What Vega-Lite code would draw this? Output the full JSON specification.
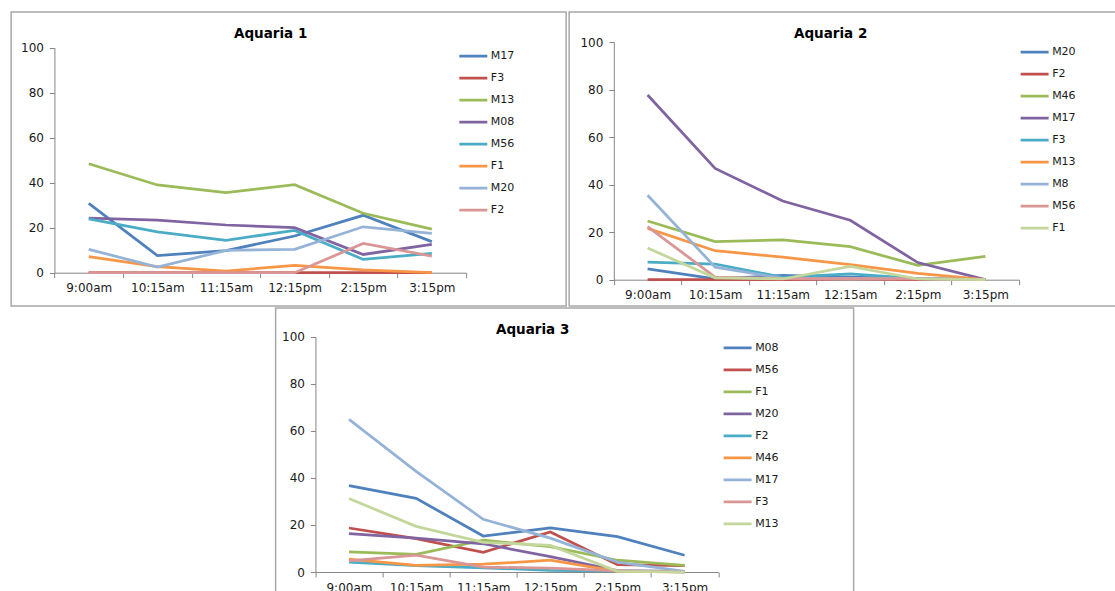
{
  "$schema": "https://vega.github.io/schema/vega-lite/v6.json",
  "padding": {"left": 10, "top": 11, "right": 0, "bottom": 0},
  "background": "white",
  "config": {
    "view": {"stroke": "#a8a8a8", "strokeWidth": 1.5},
    "font": "DejaVu Sans",
    "axis": {"domainColor": "#868686", "tickColor": "#868686", "labelColor": "#1a1a1a", "labelFont": "DejaVu Sans", "labelFontSize": 12, "grid": false, "title": null, "tickSize": 5},
    "legend": {"symbolType": "stroke", "symbolStrokeWidth": 3, "symbolSize": 784, "labelFont": "DejaVu Sans", "labelFontSize": 11, "labelColor": "#1a1a1a", "labelOffset": 2, "rowPadding": 0, "padding": 0, "title": null, "orient": "none"},
    "title": {"font": "DejaVu Sans", "fontSize": 13.5, "fontWeight": "bold", "color": "#000", "anchor": "middle", "baseline": "middle"},
    "line": {"strokeWidth": 2.75}
  },
  "datasets": {
    "a1": [
      {"t":"9:00am","s":"M17","v":30.8},{"t":"10:15am","s":"M17","v":7.6},{"t":"11:15am","s":"M17","v":9.8},{"t":"12:15pm","s":"M17","v":16.3},{"t":"2:15pm","s":"M17","v":25.5},{"t":"3:15pm","s":"M17","v":13.8},
      {"t":"9:00am","s":"F3","v":0},{"t":"10:15am","s":"F3","v":0},{"t":"11:15am","s":"F3","v":0},{"t":"12:15pm","s":"F3","v":0},{"t":"2:15pm","s":"F3","v":0},{"t":"3:15pm","s":"F3","v":0},
      {"t":"9:00am","s":"M13","v":48.4},{"t":"10:15am","s":"M13","v":39},{"t":"11:15am","s":"M13","v":35.6},{"t":"12:15pm","s":"M13","v":39.1},{"t":"2:15pm","s":"M13","v":26.4},{"t":"3:15pm","s":"M13","v":19.4},
      {"t":"9:00am","s":"M08","v":24.3},{"t":"10:15am","s":"M08","v":23.4},{"t":"11:15am","s":"M08","v":21.2},{"t":"12:15pm","s":"M08","v":20},{"t":"2:15pm","s":"M08","v":8.1},{"t":"3:15pm","s":"M08","v":12.6},
      {"t":"9:00am","s":"M56","v":23.9},{"t":"10:15am","s":"M56","v":18.1},{"t":"11:15am","s":"M56","v":14.4},{"t":"12:15pm","s":"M56","v":18.8},{"t":"2:15pm","s":"M56","v":5.9},{"t":"3:15pm","s":"M56","v":8.6},
      {"t":"9:00am","s":"F1","v":7.1},{"t":"10:15am","s":"F1","v":2.7},{"t":"11:15am","s":"F1","v":0.7},{"t":"12:15pm","s":"F1","v":3.3},{"t":"2:15pm","s":"F1","v":1.3},{"t":"3:15pm","s":"F1","v":0},
      {"t":"9:00am","s":"M20","v":10.4},{"t":"10:15am","s":"M20","v":2.5},{"t":"11:15am","s":"M20","v":9.9},{"t":"12:15pm","s":"M20","v":10.4},{"t":"2:15pm","s":"M20","v":20.4},{"t":"3:15pm","s":"M20","v":17.5},
      {"t":"9:00am","s":"F2","v":0},{"t":"10:15am","s":"F2","v":0},{"t":"11:15am","s":"F2","v":0},{"t":"12:15pm","s":"F2","v":0},{"t":"2:15pm","s":"F2","v":13},{"t":"3:15pm","s":"F2","v":7.4}
    ],
    "a2": [
      {"t":"9:00am","s":"M20","v":4.6},{"t":"10:15am","s":"M20","v":0.4},{"t":"11:15am","s":"M20","v":1.8},{"t":"12:15am","s":"M20","v":1.1},{"t":"2:15pm","s":"M20","v":0.5},{"t":"3:15pm","s":"M20","v":0},
      {"t":"9:00am","s":"F2","v":0},{"t":"10:15am","s":"F2","v":0},{"t":"11:15am","s":"F2","v":0},{"t":"12:15am","s":"F2","v":0.3},{"t":"2:15pm","s":"F2","v":0},{"t":"3:15pm","s":"F2","v":0},
      {"t":"9:00am","s":"M46","v":24.7},{"t":"10:15am","s":"M46","v":16},{"t":"11:15am","s":"M46","v":16.8},{"t":"12:15am","s":"M46","v":13.9},{"t":"2:15pm","s":"M46","v":6},{"t":"3:15pm","s":"M46","v":9.8},
      {"t":"9:00am","s":"M17","v":77.7},{"t":"10:15am","s":"M17","v":46.8},{"t":"11:15am","s":"M17","v":33.1},{"t":"12:15am","s":"M17","v":25},{"t":"2:15pm","s":"M17","v":7.2},{"t":"3:15pm","s":"M17","v":0},
      {"t":"9:00am","s":"F3","v":7.4},{"t":"10:15am","s":"F3","v":6.6},{"t":"11:15am","s":"F3","v":1},{"t":"12:15am","s":"F3","v":2.5},{"t":"2:15pm","s":"F3","v":0.5},{"t":"3:15pm","s":"F3","v":0},
      {"t":"9:00am","s":"M13","v":21.6},{"t":"10:15am","s":"M13","v":12.2},{"t":"11:15am","s":"M13","v":9.5},{"t":"12:15am","s":"M13","v":6.3},{"t":"2:15pm","s":"M13","v":2.7},{"t":"3:15pm","s":"M13","v":0},
      {"t":"9:00am","s":"M8","v":35.5},{"t":"10:15am","s":"M8","v":5.3},{"t":"11:15am","s":"M8","v":0.6},{"t":"12:15am","s":"M8","v":0.6},{"t":"2:15pm","s":"M8","v":0.5},{"t":"3:15pm","s":"M8","v":0},
      {"t":"9:00am","s":"M56","v":22.3},{"t":"10:15am","s":"M56","v":1.1},{"t":"11:15am","s":"M56","v":0.5},{"t":"12:15am","s":"M56","v":0.5},{"t":"2:15pm","s":"M56","v":0.3},{"t":"3:15pm","s":"M56","v":0},
      {"t":"9:00am","s":"F1","v":13.3},{"t":"10:15am","s":"F1","v":0.8},{"t":"11:15am","s":"F1","v":0.3},{"t":"12:15am","s":"F1","v":5.6},{"t":"2:15pm","s":"F1","v":0.3},{"t":"3:15pm","s":"F1","v":0}
    ],
    "a3": [
      {"t":"9:00am","s":"M08","v":36.7},{"t":"10:15am","s":"M08","v":31.3},{"t":"11:15am","s":"M08","v":15.3},{"t":"12:15pm","s":"M08","v":18.7},{"t":"2:15pm","s":"M08","v":15},{"t":"3:15pm","s":"M08","v":7.1},
      {"t":"9:00am","s":"M56","v":18.7},{"t":"10:15am","s":"M56","v":14.2},{"t":"11:15am","s":"M56","v":8.4},{"t":"12:15pm","s":"M56","v":17},{"t":"2:15pm","s":"M56","v":3.1},{"t":"3:15pm","s":"M56","v":2.7},
      {"t":"9:00am","s":"F1","v":8.6},{"t":"10:15am","s":"F1","v":7.5},{"t":"11:15am","s":"F1","v":13.5},{"t":"12:15pm","s":"F1","v":10.8},{"t":"2:15pm","s":"F1","v":5},{"t":"3:15pm","s":"F1","v":2.8},
      {"t":"9:00am","s":"M20","v":16.3},{"t":"10:15am","s":"M20","v":14.4},{"t":"11:15am","s":"M20","v":12},{"t":"12:15pm","s":"M20","v":6.5},{"t":"2:15pm","s":"M20","v":0.6},{"t":"3:15pm","s":"M20","v":0.3},
      {"t":"9:00am","s":"F2","v":4.2},{"t":"10:15am","s":"F2","v":2.7},{"t":"11:15am","s":"F2","v":1.8},{"t":"12:15pm","s":"F2","v":0.7},{"t":"2:15pm","s":"F2","v":0.4},{"t":"3:15pm","s":"F2","v":0},
      {"t":"9:00am","s":"M46","v":5.5},{"t":"10:15am","s":"M46","v":2.8},{"t":"11:15am","s":"M46","v":3.3},{"t":"12:15pm","s":"M46","v":5},{"t":"2:15pm","s":"M46","v":0.3},{"t":"3:15pm","s":"M46","v":0},
      {"t":"9:00am","s":"M17","v":64.9},{"t":"10:15am","s":"M17","v":42.8},{"t":"11:15am","s":"M17","v":22.4},{"t":"12:15pm","s":"M17","v":14.4},{"t":"2:15pm","s":"M17","v":4.2},{"t":"3:15pm","s":"M17","v":0.3},
      {"t":"9:00am","s":"F3","v":4.7},{"t":"10:15am","s":"F3","v":7.2},{"t":"11:15am","s":"F3","v":2.1},{"t":"12:15pm","s":"F3","v":1.6},{"t":"2:15pm","s":"F3","v":0.5},{"t":"3:15pm","s":"F3","v":0},
      {"t":"9:00am","s":"M13","v":31.2},{"t":"10:15am","s":"M13","v":19.4},{"t":"11:15am","s":"M13","v":12.6},{"t":"12:15pm","s":"M13","v":11.3},{"t":"2:15pm","s":"M13","v":0.3},{"t":"3:15pm","s":"M13","v":0}
    ]
  },
  "vconcat": [
    {
      "hconcat": [
        {
          "width": 555, "height": 294,
          "title": {"text": "Aquaria 1", "offset": -28.4, "dx": -18},
          "data": {"name": "a1"},
          "mark": "line",
          "encoding": {
            "x": {"field": "t", "type": "ordinal", "sort": ["9:00am","10:15am","11:15am","12:15pm","2:15pm","3:15pm"],
                  "scale": {"type": "band", "paddingInner": 0, "paddingOuter": 0, "range": [43.3, 455]},
                  "axis": {"offset": -33.3, "tickBand": "extent", "labelAngle": 0, "labelPadding": 5}},
            "y": {"field": "v", "type": "quantitative",
                  "scale": {"domain": [0, 100], "nice": false, "zero": true, "range": [260.7, 35.7]},
                  "axis": {"offset": -43.3, "values": [0,20,40,60,80,100], "labelPadding": 6}},
            "color": {"field": "s", "type": "nominal",
                      "scale": {"domain": ["M17","F3","M13","M08","M56","F1","M20","F2"], "range": ["#4F81BD","#C0504D","#9BBB59","#8064A2","#4BACC6","#F79646","#95B3D7","#D99694"]},
                      "legend": {"legendX": 446.7, "legendY": 33.3, "clipHeight": 21.4}}
          }
        },
        {
          "width": 549, "height": 294,
          "title": {"text": "Aquaria 2", "offset": -28.4, "dx": -13},
          "data": {"name": "a2"},
          "mark": "line",
          "encoding": {
            "x": {"field": "t", "type": "ordinal", "sort": ["9:00am","10:15am","11:15am","12:15am","2:15pm","3:15pm"],
                  "scale": {"type": "band", "paddingInner": 0, "paddingOuter": 0, "range": [44.7, 450]},
                  "axis": {"offset": -26.3, "tickBand": "extent", "labelAngle": 0, "labelPadding": 5}},
            "y": {"field": "v", "type": "quantitative",
                  "scale": {"domain": [0, 100], "nice": false, "zero": true, "range": [267.7, 30]},
                  "axis": {"offset": -44.7, "values": [0,20,40,60,80,100], "labelPadding": 6}},
            "color": {"field": "s", "type": "nominal",
                      "scale": {"domain": ["M20","F2","M46","M17","F3","M13","M8","M56","F1"], "range": ["#4F81BD","#C0504D","#9BBB59","#8064A2","#4BACC6","#F79646","#95B3D7","#D99694","#C3D69B"]},
                      "legend": {"legendX": 450, "legendY": 29.3, "clipHeight": 21.4}}
          }
        }
      ],
      "spacing": 1,
      "resolve": {"scale": {"x": "independent", "y": "independent", "color": "independent"}, "legend": {"color": "independent"}, "axis": {"x": "independent", "y": "independent"}}
    },
    {
      "width": 578, "height": 286,
      "title": {"text": "Aquaria 3", "offset": -28.4, "dx": -32},
      "data": {"name": "a3"},
      "mark": "line",
      "encoding": {
        "x": {"field": "t", "type": "ordinal", "sort": ["9:00am","10:15am","11:15am","12:15pm","2:15pm","3:15pm"],
              "scale": {"type": "band", "paddingInner": 0, "paddingOuter": 0, "range": [39.8, 442.5]},
              "axis": {"offset": -22, "tickBand": "extent", "labelAngle": 0, "labelPadding": 5}},
        "y": {"field": "v", "type": "quantitative",
              "scale": {"domain": [0, 100], "nice": false, "zero": true, "range": [264, 28.7]},
              "axis": {"offset": -39.8, "values": [0,20,40,60,80,100], "labelPadding": 6}},
        "color": {"field": "s", "type": "nominal",
                  "scale": {"domain": ["M08","M56","F1","M20","F2","M46","M17","F3","M13"], "range": ["#4F81BD","#C0504D","#9BBB59","#8064A2","#4BACC6","#F79646","#95B3D7","#D99694","#C3D69B"]},
                  "legend": {"legendX": 446.5, "legendY": 29.4, "clipHeight": 21.1}}
      }
    }
  ],
  "spacing": 0,
  "center": true,
  "resolve": {"scale": {"x": "independent", "y": "independent", "color": "independent"}, "legend": {"color": "independent"}, "axis": {"x": "independent", "y": "independent"}}
}
